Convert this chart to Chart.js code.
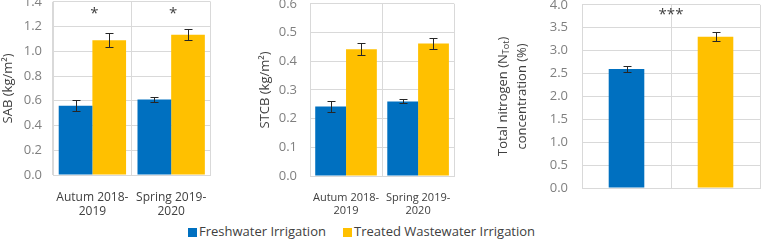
<!DOCTYPE html>
<html>
<head>
<meta charset="utf-8">
<script src="https://cdn.jsdelivr.net/npm/chart.js@4.4.1/dist/chart.umd.min.js"></script>
<style>
  body { margin: 0; width: 761px; height: 242px; background: #fff; position: relative; overflow: hidden; font-family: 'Open Sans', sans-serif; }
  canvas { position: absolute; }
  .legend-item { position: absolute; top: 223px; font-size: 13px; color: #404040; white-space: nowrap; line-height: 17px; }
  .legend-item i { display: inline-block; width: 9px; height: 9px; margin-right: 2px; vertical-align: -1px; }
</style>
</head>
<body>
<canvas id="sabChart" width="222" height="232" style="left:0;top:-17px"></canvas>
<canvas id="stcbChart" width="216" height="233" style="left:250px;top:-17px"></canvas>
<canvas id="ntotChart" width="271" height="232" style="left:490px;top:-17px"></canvas>
<script>
const seasons = [['Autum 2018-', '2019'], ['Spring 2019-', '2020']];
const seriesNames = ['Freshwater Irrigation', 'Treated Wastewater Irrigation'];
const seriesColors = ['#0070C0', '#FFC000'];

// shoot aerial biomass
const sabFresh = [0.56, 0.61];
const sabFreshErr = [0.044, 0.019];
const sabTreated = [1.09, 1.134];
const sabTreatedErr = [0.057, 0.046];
const sabMarks = ['*', '*'];

// stem + cob biomass
const stcbFresh = [0.242, 0.26];
const stcbFreshErr = [0.018, 0.007];
const stcbTreated = [0.442, 0.462];
const stcbTreatedErr = [0.022, 0.019];

// total nitrogen
const nitrogen = [2.60, 3.30];
const nitrogenErr = [0.07, 0.10];
const nitrogenMark = '***';

const FONT = "'Open Sans', sans-serif";
const GRID = '#d9d9d9';

function errorBarPlugin(errors) {
    return {
        id: 'errorBars',
        afterDatasetsDraw(chart) {
            const ctx = chart.ctx;
            const y = chart.scales.y;
            ctx.save();
            ctx.strokeStyle = '#262626';
            ctx.lineWidth = 1;
            chart.data.datasets.forEach((ds, di) => {
                chart.getDatasetMeta(di).data.forEach((bar, i) => {
                    const v = ds.data[i], e = errors[di][i];
                    const x = Math.round(bar.x) + 0.5;
                    const top = Math.round(y.getPixelForValue(v + e)) + 0.5;
                    const bot = Math.round(y.getPixelForValue(v - e)) + 0.5;
                    ctx.beginPath();
                    ctx.moveTo(x, top); ctx.lineTo(x, bot);
                    ctx.moveTo(x - 4, top); ctx.lineTo(x + 4, top);
                    ctx.moveTo(x - 4, bot); ctx.lineTo(x + 4, bot);
                    ctx.stroke();
                });
            });
            ctx.restore();
        }
    };
}

// significance stars above each category (or over the whole plot)
function markPlugin(marks, overWholePlot) {
    return {
        id: 'marks',
        afterDatasetsDraw(chart) {
            const ctx = chart.ctx;
            const area = chart.chartArea;
            ctx.save();
            ctx.fillStyle = '#404040';
            ctx.font = '15px ' + FONT;
            ctx.textAlign = 'center';
            ctx.textBaseline = 'middle';
            if (overWholePlot) {
                ctx.fillText(marks, (area.left + area.right) / 2, area.top + 10);
            } else {
                marks.forEach((m, i) => {
                    ctx.fillText(m, chart.scales.x.getPixelForValue(i) + 2, area.top + 12);
                });
            }
            ctx.restore();
        }
    };
}

// y title with subscript, Chart.js titles cannot do that
function nitrogenTitlePlugin() {
    return {
        id: 'ntotTitle',
        afterDraw(chart) {
            const ctx = chart.ctx;
            const area = chart.chartArea;
            const cy = (area.top + area.bottom) / 2;
            const big = '13px ' + FONT, small = '9px ' + FONT;
            const parts = [['Total nitrogen (N', big, 0], ['Tot', small, 3], [')', big, 0]];
            ctx.save();
            ctx.fillStyle = '#404040';
            ctx.textBaseline = 'middle';
            let total = 0;
            parts.forEach(p => { ctx.font = p[1]; total += ctx.measureText(p[0]).width; });
            ctx.translate(13, cy);
            ctx.rotate(-Math.PI / 2);
            let x = -total / 2;
            ctx.textAlign = 'left';
            parts.forEach(p => {
                ctx.font = p[1];
                ctx.fillText(p[0], x, p[2]);
                x += ctx.measureText(p[0]).width;
            });
            ctx.font = big;
            ctx.textAlign = 'center';
            ctx.setTransform(1, 0, 0, 1, 0, 0);
            ctx.translate(32, cy);
            ctx.rotate(-Math.PI / 2);
            ctx.fillText('concentration (%)', 0, 0);
            ctx.restore();
        }
    };
}

function makeOptions(cfg) {
    return {
        responsive: false,
        animation: false,
        layout: { padding: { top: 0, right: cfg.padRight, bottom: 0, left: 0 } },
        plugins: {
            legend: { display: false },
            tooltip: { enabled: false }
        },
        scales: {
            x: {
                grid: { color: GRID, drawTicks: false },
                border: { color: GRID },
                ticks: {
                    display: cfg.showX,
                    color: '#404040',
                    font: { family: FONT, size: cfg.xFont, lineHeight: 1.2 },
                    padding: 15,
                    maxRotation: 0,
                    autoSkip: false
                },
                afterFit: s => { s.height = cfg.xHeight; }
            },
            y: {
                min: 0,
                max: cfg.max,
                grid: { color: GRID, drawTicks: false },
                border: { color: GRID },
                ticks: {
                    stepSize: cfg.step,
                    color: '#7f7f7f',
                    font: { family: FONT, size: 13 },
                    padding: cfg.tickPad,
                    callback: v => v.toFixed(1)
                },
                title: {
                    display: !!cfg.title,
                    text: cfg.title,
                    color: '#404040',
                    font: { family: FONT, size: 13 },
                    padding: { top: cfg.titlePad, bottom: 0 }
                },
                afterFit: s => { s.width = cfg.yWidth; }
            }
        }
    };
}

function pairDatasets(fresh, treated) {
    return [
        { label: seriesNames[0], data: fresh, backgroundColor: seriesColors[0], categoryPercentage: 0.855, barPercentage: 1 },
        { label: seriesNames[1], data: treated, backgroundColor: seriesColors[1], categoryPercentage: 0.855, barPercentage: 1 }
    ];
}

new Chart(document.getElementById('sabChart'), {
    type: 'bar',
    data: { labels: seasons, datasets: pairDatasets(sabFresh, sabTreated) },
    options: makeOptions({ max: 1.4, step: 0.2, title: 'SAB (kg/m²)', titlePad: 0, tickPad: 11, yWidth: 53, xHeight: 40, padRight: 3, showX: true, xFont: 12 }),
    plugins: [errorBarPlugin([sabFreshErr, sabTreatedErr]), markPlugin(sabMarks, false)]
});

new Chart(document.getElementById('stcbChart'), {
    type: 'bar',
    data: { labels: seasons, datasets: pairDatasets(stcbFresh, stcbTreated) },
    options: makeOptions({ max: 0.6, step: 0.1, title: 'STCB (kg/m²)', titlePad: 7, tickPad: 13, yWidth: 60, xHeight: 40, padRight: 3, showX: true, xFont: 11 }),
    plugins: [errorBarPlugin([stcbFreshErr, stcbTreatedErr])]
});

new Chart(document.getElementById('ntotChart'), {
    type: 'bar',
    data: {
        labels: seriesNames,
        datasets: [{ data: nitrogen, backgroundColor: seriesColors, categoryPercentage: 1, barPercentage: 0.4 }]
    },
    options: makeOptions({ max: 4.0, step: 0.5, title: '', titlePad: 0, tickPad: 14, yWidth: 92, xHeight: 27, padRight: 1, showX: false, xFont: 12 }),
    plugins: [errorBarPlugin([nitrogenErr]), markPlugin(nitrogenMark, true), nitrogenTitlePlugin()]
});

// shared legend under the three panels
const legendLeft = [188, 343];
seriesNames.forEach((name, i) => {
    const item = document.createElement('div');
    item.className = 'legend-item';
    item.style.left = legendLeft[i] + 'px';
    item.innerHTML = '<i style="background:' + seriesColors[i] + '"></i>' + name;
    document.body.appendChild(item);
});
</script>
</body>
</html>
